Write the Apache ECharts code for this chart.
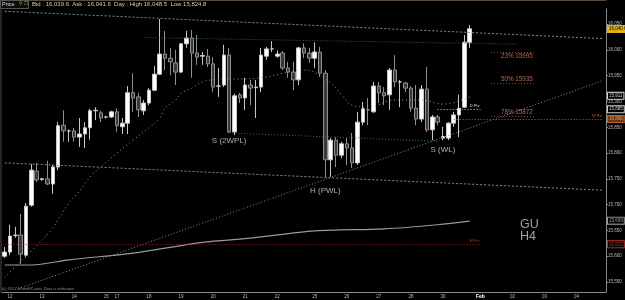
<!DOCTYPE html>
<html>
<head>
<meta charset="utf-8">
<style>
  html, body { margin: 0; padding: 0; background: #000; }
  #chart { width: 625px; height: 300px; }
</style>
<script src="https://cdn.jsdelivr.net/npm/echarts@6/dist/echarts.min.js"></script>
</head>
<body>
<div id="chart"></div>
<script>
  // GU H4 candles
  const opens = [15600, 15608, 15640, 15641, 15602, 15699, 15765, 15749, 15750, 15740, 15773, 15854, 15843, 15843, 15831, 15837, 15849, 15882, 15878, 15870, 15870, 15880, 15851, 15858, 15917, 15909, 15882, 15897, 15922, 15953, 15992, 15984, 15975, 15957, 16012, 16023, 15994, 15988, 15988, 15973, 15930, 15932, 15990, 15841, 15913, 15907, 15932, 15927, 15928, 15988, 16002, 15988, 15994, 15965, 15957, 15942, 16004, 15994, 15984, 15996, 15955, 15787, 15825, 15796, 15818, 15810, 15781, 15860, 15884, 15880, 15930, 15917, 15913, 15961, 15938, 15936, 15926, 15887, 15866, 15924, 15845, 15870, 15829, 15829, 15858, 15874, 15889, 16015];
  const closes = [15608, 15639, 15641, 15604, 15697, 15767, 15748, 15750, 15740, 15773, 15853, 15843, 15843, 15831, 15837, 15849, 15882, 15883, 15868, 15870, 15880, 15853, 15858, 15917, 15907, 15884, 15897, 15922, 15953, 15992, 15984, 15977, 15957, 16012, 16023, 15994, 15986, 15989, 15973, 15928, 15930, 15990, 15841, 15911, 15907, 15932, 15926, 15928, 15990, 16002, 16002, 15992, 15965, 15957, 15942, 16004, 15994, 15984, 15996, 15955, 15787, 15825, 15796, 15818, 15810, 15781, 15860, 15886, 15884, 15930, 15917, 15911, 15961, 15938, 15938, 15926, 15887, 15866, 15924, 15845, 15870, 15860, 15832, 15858, 15874, 15887, 16015, 16041];
  const lows = [15597, 15602, 15636, 15585, 15598, 15696, 15744, 15746, 15738, 15721, 15767, 15822, 15822, 15822, 15812, 15810, 15826, 15864, 15860, 15867, 15868, 15841, 15837, 15837, 15880, 15870, 15874, 15893, 15920, 15952, 15961, 15951, 15932, 15955, 16004, 15946, 15971, 15971, 15967, 15918, 15909, 15928, 15839, 15835, 15897, 15884, 15893, 15868, 15918, 15981, 15996, 15985, 15961, 15946, 15922, 15932, 15984, 15975, 15965, 15948, 15752, 15754, 15773, 15790, 15777, 15771, 15777, 15854, 15854, 15878, 15897, 15893, 15884, 15928, 15889, 15918, 15880, 15854, 15860, 15841, 15825, 15854, 15825, 15825, 15851, 15831, 15887, 16004];
  const highs = [15618, 15661, 15657, 15682, 15703, 15779, 15781, 15752, 15785, 15777, 15860, 15883, 15846, 15849, 15868, 15860, 15886, 15889, 15882, 15872, 15882, 15887, 15868, 15930, 15955, 15917, 15903, 15926, 15969, 16060, 16037, 16004, 16000, 16013, 16037, 16039, 16029, 15996, 16002, 15986, 15965, 16010, 16004, 15915, 15917, 15946, 15942, 15942, 16004, 16006, 16017, 15999, 15998, 15977, 15977, 16006, 16013, 16004, 16015, 16006, 15961, 15829, 15831, 15822, 15829, 15839, 15880, 15899, 15907, 15938, 15938, 15928, 15965, 15990, 15942, 15938, 15930, 15932, 15932, 15967, 15874, 15874, 15851, 15860, 15880, 15913, 16029, 16048];

  // bar slots on the time axis (incl. empty future space) and day labels
  const slotCount = 113;
  const dayTicks = { 1: '12', 7: '13', 13: '14', 19: '15', 21: '17', 27: '18', 33: '19', 39: '20', 45: '21', 51: '22', 58: '25', 64: '26', 70: '27', 76: '28', 82: '30', 89: 'Feb', 95: '02', 101: '03', 107: '04' };
  const priceTicks = [15550, 15600, 15650, 15700, 15750, 15800, 15850, 15900, 15950, 16000, 16050];

  // moving averages [slot, price]
  const slowMa = [[0, 15583], [5, 15583], [12, 15593], [24, 15606], [37, 15627], [46, 15635], [58, 15649], [71, 15653], [81, 15661], [87, 15668]];
  const fastMa = [[0, 15560], [7, 15631], [9, 15655], [12, 15703], [14, 15726], [16, 15754], [18, 15773], [21, 15800], [24, 15825], [27, 15849], [29, 15868], [30, 15887], [32, 15903], [33, 15916], [35, 15926], [37, 15938], [39, 15942], [48, 15946], [56, 15961], [61, 15936], [63, 15913], [65, 15893], [68, 15889], [73, 15903], [78, 15903], [82, 15895], [87, 15909]];

  // drawn levels
  const upperTrend = [[0, 16075], [112, 16022]];
  const lowerTrend = [[0, 15781], [112, 15728]];
  const risingTrend = [[2, 15535], [112, 15941]];
  const highZone = [[26, 16024], [96, 16011]];
  const supportZone = [[42, 15839], [81, 15823]];
  const monthlyPivot = 15623;
  const weeklyPivot = 15866;
  const dailyPivot = 15885;
  const fibNames = ['23%', '50%', '78%'];
  const fibLevels = [15995, 15935, 15872];
  const swingNames = ['S (2WPL)', 'H (PWL)', 'S (WL)'];
  const swingPoints = [[42, 15823], [60, 15727], [82, 15807]];
  const lastPrice = 16040.6;
  const fastMaLast = 15911;
  const slowMaLast = 15669;
  const bid = '16,039.6', ask = '16,041.6', dayHigh = '16,048.5', dayLow = '15,824.8';

  const font = '"Liberation Sans", Arial, sans-serif';
  const fmt = (v) => String(v).replace(/\B(?=(\d{3})+(?!\d))/g, ',');
  const categories = Array.from({ length: slotCount }, (_, i) => String(i));
  const showTick = (i) => dayTicks[i] !== undefined;

  const seg = (pts, color, dash, extra) => [
    Object.assign({ coord: pts[0], lineStyle: { color: color, width: 1, type: dash } }, extra || {}),
    { coord: pts[1] }
  ];
  const box = (v, text, fill, stroke, color) => ({
    yAxis: v,
    lineStyle: { color: 'rgba(0,0,0,0)', width: 0 },
    label: {
      show: true, position: 'end', distance: 2, formatter: text, opacity: 1,
      backgroundColor: fill, borderColor: stroke, borderWidth: 1,
      padding: [1, 1, 0, 1], fontSize: 4.5, lineHeight: 5, color: color, fontFamily: font
    }
  });

  const markLines = [
    seg(upperTrend, '#8a8a8a', [2, 2]),
    seg(lowerTrend, '#8a8a8a', [2, 2]),
    seg(risingTrend, '#8a8a8a', [1, 2]),
    seg(highZone, '#2f7a2f', [1, 2]),
    seg(supportZone, '#2f7a2f', [1, 2]),
    seg([[0, monthlyPivot], [89, monthlyPivot]], '#a02020', [1, 2], {
      label: { show: true, position: 'insideEndTop', formatter: 'M Piv', color: '#c03030', fontSize: 4, distance: 1 }
    }),
    seg([[84, weeklyPivot], [112, weeklyPivot]], '#c0602a', [1, 2], {
      label: { show: true, position: 'insideEndTop', formatter: 'W Piv', color: '#c0602a', fontSize: 4, distance: 1 }
    }),
    seg([[81, dailyPivot], [89, dailyPivot]], '#d0d0d0', [1, 2], {
      label: { show: true, position: 'insideEndTop', formatter: 'D Piv', color: '#e0e0e0', fontSize: 4, distance: 1 }
    }),
  ];
  fibLevels.forEach((lv, k) => {
    markLines.push(seg([[91, lv], [99, lv]], '#8a4a38', [1, 2], {
      label: {
        show: true, position: k === 0 ? 'insideEndBottom' : 'insideEndTop',
        formatter: fibNames[k] + ' ' + lv, color: '#b8684e', fontSize: 6.3, distance: 1
      }
    }));
  });
  markLines.push(box(lastPrice, fmt(lastPrice), '#e0b020', '#e0b020', '#000'));
  markLines.push(box(fastMaLast, fmt(fastMaLast), '#000', '#cfcfcf', '#cfcfcf'));
  markLines.push(box(dailyPivot, fmt(dailyPivot), '#000', '#cfcfcf', '#cfcfcf'));
  markLines.push(box(weeklyPivot, fmt(weeklyPivot), '#6a3214', '#c0602a', '#e0a070'));
  markLines.push(box(slowMaLast, fmt(slowMaLast), '#000', '#9a9a9a', '#9a9a9a'));
  markLines.push(box(monthlyPivot, fmt(monthlyPivot), '#000', '#c03030', '#c03030'));

  const chart = echarts.init(document.getElementById('chart'));
  const option = {
    backgroundColor: '#000',
    animation: false,
    textStyle: { fontFamily: font },
    grid: { left: 2, right: 19, top: 9, bottom: 8, show: false },
    xAxis: {
      type: 'category',
      data: categories,
      boundaryGap: true,
      axisLine: { lineStyle: { color: '#8a8a8a' } },
      axisTick: { alignWithLabel: true, interval: showTick, length: 2, lineStyle: { color: '#8a8a8a' } },
      axisLabel: {
        interval: showTick,
        formatter: (v, i) => dayTicks[i] === 'Feb' ? '{b|Feb}' : (dayTicks[i] || ''),
        fontSize: 4.5, color: '#bdbdbd', margin: 2,
        rich: { b: { fontSize: 5, fontWeight: 'bold', color: '#ffffff' } }
      },
      splitLine: { show: false }
    },
    yAxis: {
      type: 'value',
      position: 'right',
      min: 15530.6,
      max: 16079.4,
      axisLine: { show: true, lineStyle: { color: '#8a8a8a' } },
      axisTick: { show: true, customValues: priceTicks, length: 2, lineStyle: { color: '#8a8a8a' } },
      axisLabel: { customValues: priceTicks, formatter: (v) => fmt(v), fontSize: 4.5, color: '#bdbdbd', margin: 2 },
      splitLine: { show: false }
    },
    graphic: [
      { type: 'line', shape: { x1: 0, y1: 0.5, x2: 606, y2: 0.5 }, style: { stroke: '#5a4a3a', lineWidth: 1 } },
      { type: 'line', shape: { x1: 1, y1: 0, x2: 1, y2: 292 }, style: { stroke: '#4a4a4a', lineWidth: 1 } },
      { type: 'rect', shape: { x: 0.5, y: 0.5, width: 28, height: 8 }, style: { fill: '#0c0c0c', stroke: '#555' } },
      { type: 'text', x: 2, y: 1.5, style: { text: 'Price', fill: '#dddddd', font: '5.5px ' + font } },
      { type: 'text', x: 19, y: 1.5, style: { text: '⚲ ☐', fill: '#c8a040', font: '5px ' + font } },
      { type: 'text', x: 32, y: 1.5, style: { text: 'Bid : ' + bid + '  Ask : ' + ask + '  Day : High ' + dayHigh + '  Low ' + dayLow, fill: '#cccccc', font: '6px ' + font } },
      { type: 'text', x: 520, y: 218, style: { text: 'GU', fill: '#a0a0a0', font: '12.5px ' + font } },
      { type: 'text', x: 520, y: 230, style: { text: 'H4', fill: '#a0a0a0', font: '12.5px ' + font } },
      { type: 'text', x: 2, y: 286.5, style: { text: '(c) 2017 EminiFX.com, Data is indicative', fill: '#8a8a8a', font: 'italic 4px ' + font } }
    ],
    series: [
      {
        type: 'line',
        data: slowMa,
        smooth: 0.3,
        showSymbol: false,
        silent: true,
        lineStyle: { color: '#9a9a9a', width: 1.2 }
      },
      {
        type: 'line',
        data: fastMa,
        smooth: 0.4,
        showSymbol: false,
        silent: true,
        lineStyle: { color: '#9a9a9a', width: 1, type: [1, 3] }
      },
      {
        type: 'candlestick',
        data: opens.map((o, i) => [o, closes[i], lows[i], highs[i]]),
        barWidth: 4,
        itemStyle: {
          color: '#ffffff', color0: '#3a3a3a',
          borderColor: '#c8c8c8', borderColor0: '#8f8f8f', borderWidth: 1
        },
        markLine: {
          silent: true,
          symbol: ['none', 'none'],
          label: { show: false, fontFamily: font },
          data: markLines
        },
        markPoint: {
          silent: true,
          symbol: 'rect',
          symbolSize: 1,
          itemStyle: { color: 'rgba(0,0,0,0)' },
          label: { show: true, position: 'inside', color: '#b0b0b0', fontSize: 8, fontFamily: font, formatter: (p) => p.name },
          data: swingNames.map((n, k) => ({ name: n, coord: swingPoints[k] }))
        }
      }
    ]
  };
  chart.setOption(option);
</script>
</body>
</html>
